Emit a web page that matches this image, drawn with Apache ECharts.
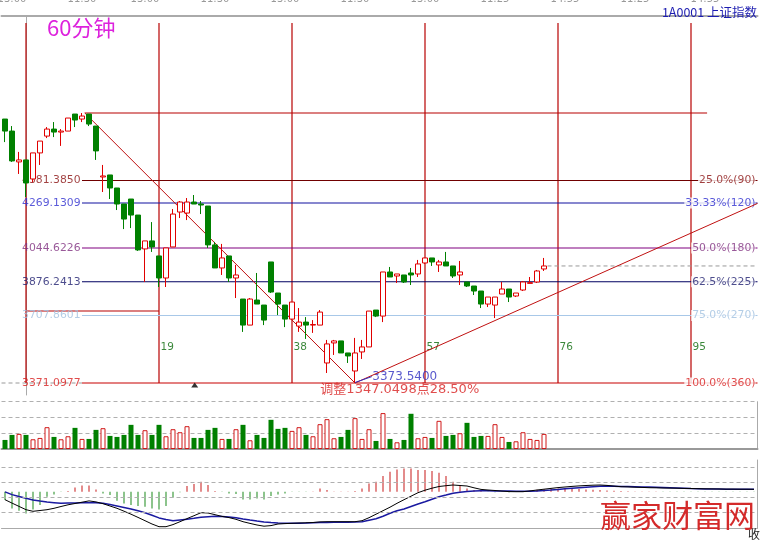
<!DOCTYPE html>
<html><head><meta charset="utf-8">
<script src="https://cdn.jsdelivr.net/npm/echarts@6/dist/echarts.min.js"></script>
<style>html,body{margin:0;padding:0;background:#fff}#c{width:761px;height:541px}</style>
</head><body><div id="c"></div>
<script>
// ---------- data ----------
// bar index runs from -3 (first visible candle) to 104 (right edge of the panels)
const categories = [];
for (let i = -3; i <= 104; i++) categories.push(String(i));

// 60-minute candles, index -3 .. 74
const opens  = [4688,4628,4474,4484,4389,4519,4603,4638,4623,4628,4713,4688,4713,4653,4399,4409,4344,4264,4289,4209,4040,4080,4005,3895,4050,4224,4219,4274,4264,4254,4060,3945,4005,3895,3790,3660,3785,3760,3975,3820,3760,3690,3655,3675,3660,3660,3471,3571,3581,3521,3431,3526,3551,3735,3705,3925,3905,3910,3920,3915,3970,3995,3960,3975,3955,3910,3875,3855,3830,3765,3760,3815,3840,3805,3835,3868,3875,3940];
const closes = [4628,4479,4484,4369,4519,4578,4638,4623,4628,4693,4683,4703,4663,4529,4404,4344,4264,4189,4209,4035,4080,4050,3895,4045,4214,4274,4274,4264,4259,4060,3945,3995,3895,3910,3660,3790,3765,3685,3825,3765,3690,3775,3675,3660,3663,3725,3566,3581,3521,3506,3521,3551,3730,3705,3925,3900,3915,3875,3910,3965,3995,3975,3975,3955,3905,3925,3855,3830,3765,3800,3800,3840,3800,3820,3875,3872,3930,3955];
const lows   = [4573,4474,4414,4299,4374,4459,4593,4598,4554,4628,4648,4673,4653,4484,4324,4289,4234,4139,4144,4030,3875,4025,3850,3850,4050,4194,4184,4264,4214,4045,3945,3910,3875,3795,3626,3660,3765,3660,3820,3710,3650,3690,3626,3591,3621,3660,3421,3511,3521,3471,3373.54,3491,3551,3700,3675,3900,3870,3870,3860,3900,3965,3955,3925,3955,3895,3860,3850,3810,3745,3750,3695,3815,3775,3800,3830,3868,3870,3930];
const highs  = [4688,4653,4524,4484,4519,4578,4648,4673,4638,4693,4713,4718.1475,4713,4653,4459,4409,4344,4264,4289,4209,4080,4174,4005,4045,4239,4279,4294,4309,4279,4254,4075,4065,4005,3960,3790,3795,3920,3760,3975,3820,3760,3775,3745,3700,3685,3735,3586,3586,3581,3521,3596,3586,3730,3735,3925,3950,3915,3910,3945,3985,3995,3995,3985,4025,3955,3980,3875,3855,3830,3800,3800,3875,3840,3820,3880,3900,3935,3995];

// volume (relative units), index -3 .. 74
const volumes = [27,42,45,42,29,33,65,36,29,38,63,30,30,57,62,39,36,42,72,42,56,42,72,38,59,50,68,33,33,57,63,30,30,59,72,26,42,33,87,60,63,54,65,42,38,74,89,32,36,57,92,30,59,24,107,30,20,27,105,32,36,33,84,39,42,47,78,36,39,39,74,36,21,23,50,30,27,45];

// MACD panel, index -3 .. 104
const macdHist = [-8.3,-16.7,-19,-21.7,-17.7,-13.3,-5,-2.7,-0.3,0.7,4.3,6.3,6.3,2.3,-1.7,-3.3,-9,-11.7,-13.3,-14.3,-15,-16.7,-17.7,-14.3,-5.7,-0.5,5.7,7.7,10,6.7,0.7,-0.3,-1.7,-2.3,-7.7,-7.7,-6.7,-7.7,-4.3,-2.7,-1.7,-0.3,-0.3,-0.3,0.3,3.3,1.7,0.3,0.3,0.3,0.7,3.3,8.3,10,15.7,20,22.3,23.3,23.3,21.7,21.7,20.7,19,15.7,10,5.7,3.3,1.7,0.7,-0.3,-0.5,-0.3,-0.5,-0.3,0.3,1,2,2.5,3,3.3,3.3,3,2.7,2.3,2,1.7,1.3,1,0.7,0.5,0.3,0.3,0.3,0.3,-0.3,-0.3,-0.3,-0.3,-0.3,-0.3,-0.3,-0.3,-0.3,-0.3,-0.3,-0.3,-0.3,-0.3];
const dif = [-8,-11.4,-14.7,-18,-19.6,-18.8,-18,-16.6,-14.8,-13.1,-11.8,-10.5,-9.2,-10.2,-12,-14.3,-16.6,-19.5,-22.5,-25.7,-29,-32.3,-35,-35,-32.9,-30,-26.9,-24,-21,-21.3,-23,-24.7,-25.9,-27.6,-30,-31.7,-33.3,-34.5,-33.9,-32.3,-31.9,-31.6,-31.3,-31.1,-30.8,-30.2,-30,-30,-30,-30,-30,-29,-26,-22.5,-19,-15.5,-11.6,-8,-4.5,-1,1.5,3.5,5.2,6,6.7,6.2,5.7,3.9,2.3,1.7,1.2,0.6,0.1,0,0,0.8,1.7,2.5,3.3,4.1,4.7,5.3,5.8,6.2,6.5,6.7,6.3,5.6,5,4.8,4.5,4.3,4,3.9,3.7,3.6,3.5,3.3,3.2,3,2.9,2.8,2.7,2.6,2.6,2.5,2.5,2.4];
const dea = [-0.2,-2.9,-4.8,-6.6,-8.2,-9.4,-10.4,-11,-11.6,-11.4,-11.2,-11,-11,-11,-11.5,-12.8,-14.2,-15.7,-17.2,-19,-21,-23.5,-26.2,-27.7,-29,-28.3,-27.6,-26.6,-25.5,-25,-24.5,-24.7,-25.3,-26,-27.2,-28.3,-29.3,-30.2,-30.8,-31.3,-31.6,-31.6,-31.6,-31.4,-31.1,-30.9,-30.7,-30.6,-30.6,-30.6,-30.4,-30,-28.5,-27,-24.5,-21.5,-19,-17.3,-14.8,-12.3,-10,-7.5,-5.1,-3.4,-1.6,-0.5,0.2,0.6,1,0.9,0.8,0.7,0.6,0.5,0.4,0.5,0.8,1.2,1.7,2.3,3,3.5,4,4.5,5,5.5,5.6,5.5,5.3,5.2,5,4.8,4.6,4.4,4.2,4,3.7,3.4,3.1,2.9,2.7,2.6,2.6,2.5,2.5,2.4,2.4,2.4];

// time ticks on the (cut-off) top axis
const timeTickIdx = [-2,8,17,27,37,47,57,67,77,87,97];
const timeTickLabels = ['13:00','11:30','13:00','11:30','13:00','11:30','13:00','11:25','14:55','11:25','14:55'];

// Fibonacci / Gann levels
const swingHigh = 4718.1475, swingLow = 3371.0977, lowLabel = 3373.5400;
const highIdx = 8.4, lowIdx = 47;
const fibPrices = [4381.3850, 4269.1309, 4044.6226, 3876.2413, 3707.8601, 3371.0977];
const fibRightLabels = ['25.0%(90)','33.33%(120)','50.0%(180)','62.5%(225)','75.0%(270)','100.0%(360)'];
const countMarks = [0,19,38,57,76,95];
const adjustPoints = '1347.0498', adjustPct = '28.50%';
const trendEnd = [104.5, 4267];        // rising line from the low, read at the right edge
const boxLevel = 3730.3;               // short horizontal from bar 0 to 19
const vlineTop = 5167.2;
const countLabelPrice = 3550.7;
const triangleMark = [24.1, 3361.1];

// ---------- styles ----------
const fibLineColors = ['#700000','#1010a0','#800080','#000060','#a8c8e8','#c80000'];
const fibTextColors = ['#8a1010','#3030d0','#803080','#202070','#a0c0e0','#d82020'];
const RED = '#b80000', GREEN = '#008000';
const priceTop = 5202.09, priceBottom = 3311.23;

const chart = echarts.init(document.getElementById('c'), null, {renderer:'canvas'});

function seg(pts, color, z, dashed, width) {
  return {type:'line', xAxisIndex:1, yAxisIndex:0, data:pts, symbol:'none', silent:true,
    animation:false, z:z, lineStyle:{color:color, width:width||1, type:dashed?[4,3]:'solid'}};
}

const series = [];
series.push({
  type:'candlestick', xAxisIndex:0, yAxisIndex:0, z:5, barWidth:5, animation:false,
  data: opens.map((o,k)=>[o, closes[k], lows[k], highs[k]]),
  itemStyle:{color:'#ffffff', color0:GREEN, borderColor:'#e00000', borderColor0:GREEN, borderWidth:1}
});
countMarks.forEach(i => series.push(seg([[i, vlineTop],[i, swingLow]], RED, 2, false, 1.2)));
fibPrices.forEach((p,k) => series.push(seg([[highIdx - 0.4, p],[104.5, p]], fibLineColors[k], 2, false, 1.1)));
series.push(seg([[highIdx, swingHigh],[97.3, swingHigh]], RED, 2, false, 1.1));
series.push(seg([[0, boxLevel],[19, boxLevel]], RED, 2, false, 1.1));
series.push(seg([[-3.5, swingLow],[highIdx - 0.4, swingLow]], '#999', 1, true));
series.push(seg([[74.5, closes[closes.length-1]],[104.5, closes[closes.length-1]]], '#999', 2, true));
series.push(seg([[highIdx, swingHigh],[lowIdx, swingLow]], '#c01010', 4));
series.push(seg([[lowIdx, swingLow], trendEnd], '#c01010', 4));
series.push(seg([[lowIdx, lowLabel],[49.4, 3403]], '#3030c0', 4));

const lblFont = {fontFamily:'DejaVu Sans', fontSize:10.8};
const labelData = [];
fibPrices.forEach((p,k) => {
  labelData.push({value:[highIdx - 0.4, p], label:Object.assign({show:true, position:'left', distance:1,
    formatter:p.toFixed(4), color:fibTextColors[k]}, lblFont)});
  labelData.push({value:[104.5, p], label:Object.assign({show:true, position:'left', distance:1.5,
    formatter:fibRightLabels[k], color:fibTextColors[k], backgroundColor:'#ffffff', padding:[0,0,0,1]}, lblFont)});
});
countMarks.slice(1).forEach(i => labelData.push({value:[i, countLabelPrice], label:{show:true, position:'right',
  distance:1, formatter:String(i), color:'#0a6a0a', fontFamily:'DejaVu Sans', fontSize:10.5}}));
labelData.push({value:[49.4, 3403], label:{show:true, position:'right', distance:0, formatter:lowLabel.toFixed(4),
  color:'#3030c0', fontFamily:'DejaVu Sans', fontSize:12}});
labelData.push({value:[53.4, swingLow], label:{show:true, position:'bottom', distance:0,
  formatter:'调整' + adjustPoints + '点' + adjustPct, color:'#d82020', fontFamily:'DejaVu Sans, Noto Sans CJK SC', fontSize:13}});
series.push({type:'scatter', xAxisIndex:1, yAxisIndex:0, z:3, symbolSize:1, silent:true, animation:false,
  itemStyle:{color:'rgba(0,0,0,0)'}, data:labelData});
series.push({type:'scatter', xAxisIndex:1, yAxisIndex:0, z:6, symbol:'triangle', symbolSize:[7,5], silent:true,
  animation:false, itemStyle:{color:'#000'}, data:[triangleMark]});

series.push({type:'bar', xAxisIndex:2, yAxisIndex:1, barWidth:5, animation:false, silent:true,
  data: volumes.map((v,k)=> closes[k] > opens[k]
    ? {value:v, itemStyle:{color:'#ffffff', borderColor:'#d01818', borderWidth:1}}
    : {value:v, itemStyle:{color:GREEN}})
});

series.push({type:'bar', xAxisIndex:3, yAxisIndex:2, barWidth:1, animation:false, silent:true,
  data: macdHist.map(v => ({value:v, itemStyle:{color: v >= 0 ? '#c81818' : '#1a8a1a'}})),
  markLine:{silent:true, symbol:'none', label:{show:false}, animation:false,
    lineStyle:{color:'#b0b0b0', type:[4,3], width:1},
    data:[{yAxis:24.7},{yAxis:9.7},{yAxis:-5.3},{yAxis:-20.3}]}
});
series.push({type:'line', xAxisIndex:3, yAxisIndex:2, data:dif, symbol:'none', animation:false, silent:true,
  lineStyle:{color:'#000', width:1}, z:4});
series.push({type:'line', xAxisIndex:3, yAxisIndex:2, data:dea, symbol:'none', animation:false, silent:true,
  lineStyle:{color:'#1a1aa0', width:1.5}, z:3});

const gridBase = {left:1.5, right:3.5, containLabel:false, outerBoundsMode:'none'};
const option = {
  backgroundColor:'#ffffff',
  animation:false,
  title:[
    {text:'60分钟', left:47, top:17, padding:0, textStyle:{color:'#dd22dd', fontSize:22, fontWeight:'normal', fontFamily:'Noto Sans CJK SC'}},
    {text:'1A0001 上证指数', right:4, top:6, padding:0, textStyle:{color:'#1c1cb0', fontSize:12.5, fontWeight:'normal', fontFamily:'Noto Sans CJK SC'}},
    {text:'赢家财富网', right:6, top:500, padding:0, textStyle:{color:'#d42a2a', fontSize:31, fontWeight:'normal', fontFamily:'Noto Sans CJK SC'}},
    {text:'收', right:1, top:528, padding:0, textStyle:{color:'#222', fontSize:12, fontWeight:'normal', fontFamily:'Noto Sans CJK SC'}}
  ],
  grid:[
    Object.assign({top:16, bottom:146}, gridBase),
    Object.assign({top:401.7, bottom:92}, gridBase),
    Object.assign({top:460, bottom:13}, gridBase)
  ],
  xAxis:[
    {type:'category', gridIndex:0, data:categories, position:'top', boundaryGap:true,
     axisLine:{onZero:false, lineStyle:{color:'#aaaaaa', width:2}}, axisTick:{show:false}, splitLine:{show:false},
     axisLabel:{show:true, margin:12, color:'#999', fontSize:10, fontFamily:'DejaVu Sans', hideOverlap:false,
       interval:(idx, val) => timeTickIdx.includes(Number(val)),
       formatter:(val) => { const k = timeTickIdx.indexOf(Number(val)); return k >= 0 ? timeTickLabels[k] : ''; }}},
    {type:'value', gridIndex:0, min:-3.5, max:104.5, show:false},
    {type:'category', gridIndex:1, data:categories, boundaryGap:true,
     axisLine:{onZero:false, lineStyle:{color:'#999999', width:2}}, axisTick:{show:false}, axisLabel:{show:false}},
    {type:'category', gridIndex:2, data:categories, boundaryGap:true,
     axisLine:{onZero:false, lineStyle:{color:'#aaaaaa', width:1}}, axisTick:{show:false}, axisLabel:{show:false}}
  ],
  yAxis:[
    {type:'value', gridIndex:0, min:priceBottom, max:priceTop, position:'right', scale:true,
     axisLine:{show:true, lineStyle:{color:'#aaaaaa'}}, axisTick:{show:false}, axisLabel:{show:false}, splitLine:{show:false}},
    {type:'value', gridIndex:1, min:0, max:141, interval:47, position:'right',
     axisLine:{show:true, lineStyle:{color:'#aaaaaa'}}, axisTick:{show:false}, axisLabel:{show:false},
     splitLine:{show:true, lineStyle:{color:'#b0b0b0', type:[4,3]}}},
    {type:'value', gridIndex:2, min:-36.3, max:31.7, position:'right', scale:true,
     axisLine:{show:true, lineStyle:{color:'#aaaaaa'}}, axisTick:{show:false}, axisLabel:{show:false}, splitLine:{show:false}}
  ],
  series: series
};
chart.setOption(option);
</script></body></html>
